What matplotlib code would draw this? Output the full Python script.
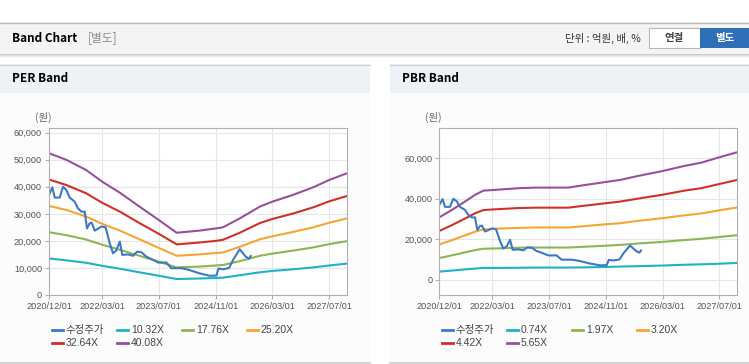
import matplotlib.pyplot as plt
import matplotlib.dates as mdates
from matplotlib.patches import Rectangle
from matplotlib.lines import Line2D
from matplotlib.ticker import FuncFormatter
import numpy as np

plt.rcParams['font.family'] = ['Liberation Sans', 'Noto Sans CJK KR', 'DejaVu Sans']

# adjusted share price (same for both charts)
price_dates = ["2020-12-01", "2020-12-30", "2021-01-19", "2021-03-03", "2021-03-31",
               "2021-04-29", "2021-05-27", "2021-07-09", "2021-08-07", "2021-09-05",
               "2021-10-03", "2021-10-23", "2021-11-15", "2021-12-02", "2021-12-28",
               "2022-01-26", "2022-02-23", "2022-04-01", "2022-05-06", "2022-06-03",
               "2022-07-02", "2022-07-31", "2022-08-22", "2022-10-10", "2022-11-22",
               "2022-12-26", "2023-02-02", "2023-03-15", "2023-05-12", "2023-06-24",
               "2023-09-03", "2023-10-16", "2024-01-10", "2024-03-07", "2024-06-15",
               "2024-09-09", "2024-11-06", "2024-11-24", "2025-01-03", "2025-02-23",
               "2025-03-29", "2025-05-25", "2025-07-15", "2025-08-13", "2025-08-27"]
price = [37000, 39800, 36000, 36000, 40000,
         38800, 36000, 34500, 32000, 30800,
         30800, 24600, 26500, 26700, 23800,
         24500, 25300, 25000, 19100, 15400,
         16500, 19700, 14800, 15000, 14500,
         16000, 15800, 14200, 13000, 12000,
         12000, 9900, 9900, 9400, 8000,
         7100, 7200, 9800, 9500, 10000,
         13000, 16900, 14200, 13400, 14400]

# PER band
per_dates = ["2020-12-01", "2021-05-01", "2021-10-15", "2022-03-01", "2022-08-01",
             "2023-01-15", "2023-07-01", "2023-12-01", "2024-06-15", "2024-11-01",
             "2025-01-01", "2025-05-25", "2025-11-15", "2026-03-01", "2026-08-25",
             "2027-02-15", "2027-07-01", "2027-12-01"]
per_labels = ["10.32X", "17.76X", "25.20X", "32.64X", "40.08X"]
per_1032 = [13500, 12800, 11900, 10800, 9700, 8400, 7100, 5900, 6100, 6300,
            6400, 7300, 8400, 8900, 9500, 10200, 10900, 11600]
per_1776 = [23200, 22100, 20500, 18600, 16700, 14500, 12300, 10200, 10500, 10900,
            11100, 12500, 14500, 15300, 16400, 17600, 18800, 19900]
per_2520 = [32900, 31400, 29000, 26300, 23800, 20600, 17400, 14500, 15000, 15500,
            15700, 17800, 20600, 21700, 23300, 25000, 26700, 28300]
per_3264 = [42700, 40600, 37600, 34100, 30800, 26600, 22600, 18700, 19400, 20000,
            20400, 23000, 26600, 28100, 30100, 32400, 34600, 36600]
per_4008 = [52400, 49900, 46200, 41900, 37800, 32700, 27700, 23000, 23800, 24600,
            25000, 28300, 32700, 34500, 37000, 39800, 42500, 45000]

# PBR band
pbr_dates = ["2020-12-01", "2021-03-17", "2021-07-09", "2021-10-03", "2021-12-14",
             "2022-03-01", "2022-10-10", "2023-03-02", "2023-12-13", "2024-05-04",
             "2024-11-01", "2025-03-01", "2025-08-05", "2026-03-01", "2026-09-03",
             "2027-01-24", "2027-07-01", "2027-12-01"]
pbr_labels = ["0.74X", "1.97X", "3.20X", "4.42X", "5.65X"]
pbr_074 = [4000, 4500, 5100, 5500, 5800, 5800, 5900, 6000, 6000, 6100,
           6300, 6500, 6700, 7000, 7400, 7600, 7900, 8300]
pbr_197 = [10700, 12000, 13500, 14600, 15300, 15400, 15800, 15900, 15900, 16300,
           16800, 17200, 17900, 18700, 19600, 20200, 21100, 22000]
pbr_320 = [17400, 19500, 21900, 23700, 24900, 25100, 25600, 25800, 25800, 26500,
           27400, 27900, 29100, 30400, 31800, 32700, 34300, 35700]
pbr_442 = [24100, 26900, 30200, 32800, 34400, 34700, 35400, 35600, 35600, 36600,
           37800, 38600, 40100, 42000, 44000, 45200, 47300, 49300]
pbr_565 = [30800, 34400, 38600, 41900, 44000, 44300, 45200, 45500, 45500, 46800,
           48300, 49300, 51300, 53700, 56200, 57800, 60500, 63000]

tick_dates = ["2020-12-01", "2022-03-01", "2023-07-01", "2024-11-01", "2026-03-01", "2027-07-01"]
price_label = "수정주가"
colors = ["#3b78c6", "#1fb1c6", "#8db553", "#f4a535", "#d0302a", "#97509c"]

W, H = 749, 364
fig = plt.figure(figsize=(W / 100, H / 100), dpi=100)


def fx(x):
    return x / W


def fy(y):
    return 1 - y / H


def rect(x0, y0, x1, y1, color, z=-2):
    fig.patches.append(Rectangle((fx(x0), fy(y1)), fx(x1 - x0), (y1 - y0) / H,
                                 transform=fig.transFigure, facecolor=color,
                                 edgecolor="none", zorder=z))


def hline(x0, x1, y, color, lw=1.0):
    fig.add_artist(Line2D([fx(x0), fx(x1)], [fy(y), fy(y)], color=color, lw=lw,
                          transform=fig.transFigure, zorder=-1))


# top header bar
rect(0, 22, W, 53, "#f4f4f4")
hline(0, W, 22.5, "#bdbdbd")
for i, c in enumerate(["#c8c8c8", "#dcdcdc", "#ececec"]):
    hline(0, W, 53.5 + i, c)
fig.text(fx(12), fy(38), "Band Chart", fontsize=8.5, fontweight="bold",
         va="center", family=["Noto Sans CJK KR"])
fig.text(fx(88), fy(38), "[별도]", fontsize=8.5, color="#8a8a8a", va="center",
         family=["Noto Sans CJK KR"])
fig.text(fx(641), fy(38), "단위 : 억원, 배, %", fontsize=7.5, ha="right", va="center",
         color="#333333", family=["Noto Sans CJK KR"])
fig.patches.append(Rectangle((fx(649), fy(48)), fx(51), 20 / H, transform=fig.transFigure,
                             facecolor="white", edgecolor="#b8b8b8", lw=0.8, zorder=-1))
fig.text(fx(674.5), fy(38), "연결", fontsize=7.5, ha="center", va="center",
         color="#444444", fontweight="bold", family=["Noto Sans CJK KR"])
rect(700, 28, 749, 48, "#2f6fb7", z=-1)
fig.text(fx(724.5), fy(38), "별도", fontsize=7.5, ha="center", va="center",
         color="white", fontweight="bold", family=["Noto Sans CJK KR"])

# panels
for px0, px1, title in [(0, 370, "PER Band"), (390, W, "PBR Band")]:
    rect(px0, 64, px1, 93, "#eef2f7")
    rect(px0, 93, px1, 363, "#fcfcfc")
    hline(px0, px1, 64.5, "#d4d4d4")
    hline(px0, px1, 363, "#d4d4d4", lw=1.5)
    fig.text(fx(px0 + 12), fy(79), title, fontsize=8.5, fontweight="bold",
             va="center", family=["Noto Sans CJK KR"])
    fig.text(fx(px0 + 35), fy(117), "(원)", fontsize=7.5, color="#666666",
             va="center", family=["Noto Sans CJK KR"])


def draw(ax_left, dates, bands, ylim, yticks):
    ax = fig.add_axes([fx(ax_left), fy(295), fx(298), 166.7 / H])
    ax.set_facecolor("white")
    d = mdates.datestr2num(dates)
    for vals, c in zip(bands, colors[1:]):
        ax.plot(d, vals, color=c, lw=1.5, solid_capstyle="butt")
    ax.plot(mdates.datestr2num(price_dates), price, color=colors[0], lw=1.5)
    ax.set_xlim(mdates.datestr2num("2020-12-01"), mdates.datestr2num("2027-12-01"))
    ax.set_ylim(*ylim)
    ax.set_xticks(mdates.datestr2num(tick_dates))
    ax.xaxis.set_major_formatter(mdates.DateFormatter("%Y/%m/%d"))
    ax.set_yticks(yticks)
    ax.yaxis.set_major_formatter(FuncFormatter(lambda v, p: f"{v:,.0f}"))
    ax.grid(True, color="#e6e6e6", lw=0.8)
    ax.set_axisbelow(True)
    for s in ax.spines.values():
        s.set_color("#b0b0b0")
    ax.tick_params(length=3, color="#b0b0b0", labelsize=6.6, labelcolor="#555555", pad=2)
    return ax


draw(49, per_dates, [per_1032, per_1776, per_2520, per_3264, per_4008],
     (0, 61600), np.arange(0, 60001, 10000))
draw(439.3, pbr_dates, [pbr_074, pbr_197, pbr_320, pbr_442, pbr_565],
     (-7550, 74800), np.arange(0, 60001, 20000))

# legends
for off, labels in [(0, per_labels), (390, pbr_labels)]:
    for i, (lab, c) in enumerate(zip([price_label] + labels, colors)):
        x = off + 52.3 + (i % 4) * 65
        y = 330 + (i // 4) * 13.3
        fig.add_artist(Line2D([fx(x), fx(x + 11)], [fy(y), fy(y)], color=c, lw=2,
                              transform=fig.transFigure))
        fig.text(fx(x + 13.5), fy(y), lab, fontsize=7.5, color="#444444", va="center")

fig.savefig("out.png", dpi=100)
